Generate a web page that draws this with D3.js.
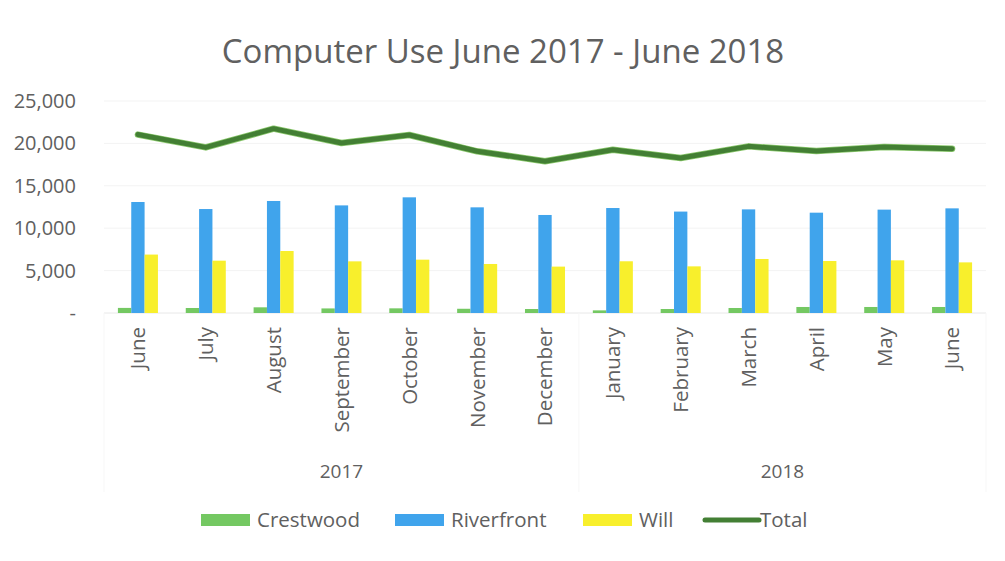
<!DOCTYPE html>
<html>
<head>
<meta charset="utf-8">
<script src="https://cdn.jsdelivr.net/npm/d3@7"></script>
<style>
  html, body { margin: 0; padding: 0; background: #ffffff; }
  svg { display: block; font-family: "Open Sans", "Noto Sans", sans-serif; }
</style>
</head>
<body>
<svg id="chart" width="1005" height="561"></svg>
<script>
// Monthly computer sessions by branch, June 2017 – June 2018
const months = ["June", "July", "August", "September", "October", "November", "December",
                "January", "February", "March", "April", "May", "June"];
const years = [
  { label: "2017", from: 0, to: 6 },
  { label: "2018", from: 7, to: 12 }
];
const crestwood  = [600, 590, 670, 540, 550, 500, 470, 310, 470, 590, 710, 710, 710];
const riverfront = [13090, 12260, 13210, 12690, 13640, 12460, 11560, 12380, 11960, 12220, 11830, 12190, 12340];
const will       = [6890, 6170, 7310, 6090, 6290, 5780, 5470, 6100, 5500, 6370, 6130, 6210, 5970];
const total      = [21040, 19530, 21740, 20050, 20990, 19070, 17890, 19260, 18280, 19650, 19100, 19570, 19380];
const yTicks = [0, 5000, 10000, 15000, 20000, 25000];

const series = [
  { name: "Crestwood",  values: crestwood,  color: "#74c862" },
  { name: "Riverfront", values: riverfront, color: "#40a4ec" },
  { name: "Will",       values: will,       color: "#f8ef2c" }
];
const lineColor = "#437f34";

const svg = d3.select("#chart");
const plotLeft = 104, plotRight = 986, plotTop = 101, plotBottom = 313;
const textColor = "#606060";

const x = d3.scaleBand().domain(d3.range(months.length)).range([plotLeft, plotRight]);
const xSub = d3.scaleBand().domain(series.map(s => s.name))
  .range([0, x.bandwidth() * 0.59]);
const subOffset = (x.bandwidth() - xSub.range()[1]) / 2;
const y = d3.scaleLinear().domain([0, 25000]).range([plotBottom, plotTop]);

// Title
svg.append("text")
  .attr("x", 503).attr("y", 63)
  .attr("text-anchor", "middle")
  .attr("font-size", 33)
  .attr("fill", textColor)
  .text("Computer Use June 2017 - June 2018");

// Horizontal gridlines
svg.append("g").selectAll("line").data(yTicks).join("line")
  .attr("x1", plotLeft).attr("x2", plotRight)
  .attr("y1", d => y(d)).attr("y2", d => y(d))
  .attr("stroke", d => d === 0 ? "#e8e8e8" : "#f3f3f3")
  .attr("stroke-width", 1);

// Y axis labels
const yAxis = d3.axisLeft(y).tickValues(yTicks).tickSize(0).tickPadding(28)
  .tickFormat(d => d === 0 ? "-" : d3.format(",")(d));
const yg = svg.append("g").attr("transform", `translate(${plotLeft},0)`).call(yAxis);
yg.select(".domain").remove();
yg.selectAll("text").attr("font-size", 20).attr("fill", textColor)
  .attr("font-family", "'Open Sans', sans-serif");

// Bars
const groups = svg.append("g").selectAll("g").data(months.map((m, i) => i)).join("g")
  .attr("transform", i => `translate(${x(i) + subOffset},0)`);
groups.selectAll("rect")
  .data(i => series.map(s => ({ name: s.name, color: s.color, value: s.values[i] })))
  .join("rect")
  .attr("x", d => xSub(d.name))
  .attr("width", xSub.bandwidth())
  .attr("y", d => y(d.value))
  .attr("height", d => y(0) - y(d.value))
  .attr("fill", d => d.color);

// Total line
const line = d3.line()
  .x((d, i) => x(i) + x.bandwidth() / 2)
  .y(d => y(d));
svg.append("path").datum(total)
  .attr("d", line)
  .attr("fill", "none")
  .attr("stroke", "#8cc96e")
  .attr("stroke-width", 6.5)
  .attr("stroke-linejoin", "round")
  .attr("stroke-linecap", "round");
svg.append("path").datum(total)
  .attr("d", line)
  .attr("fill", "none")
  .attr("stroke", lineColor)
  .attr("stroke-width", 5)
  .attr("stroke-linejoin", "round")
  .attr("stroke-linecap", "round");

// Month labels (rotated)
const xAxis = d3.axisBottom(x).tickSize(0).tickPadding(14).tickFormat(i => months[i]);
const xg = svg.append("g").attr("transform", `translate(0,${plotBottom})`).call(xAxis);
xg.select(".domain").remove();
xg.selectAll("text")
  .attr("font-size", 20.5)
  .attr("fill", textColor)
  .attr("font-family", "'Open Sans', sans-serif")
  .attr("text-anchor", "end")
  .attr("transform", "rotate(-90)")
  .attr("x", -14)
  .attr("y", 0)
  .attr("dy", "0.36em");

// Year group separators
const sepX = [plotLeft, x(7), plotRight];
svg.append("g").selectAll("line").data(sepX).join("line")
  .attr("x1", d => d).attr("x2", d => d)
  .attr("y1", plotBottom).attr("y2", 492)
  .attr("stroke", "#f7f7f7").attr("stroke-width", 1);

// Year labels
svg.append("g").selectAll("text").data(years).join("text")
  .attr("x", d => (x(d.from) + x(d.to) + x.bandwidth()) / 2)
  .attr("y", 478)
  .attr("text-anchor", "middle")
  .attr("font-size", 19)
  .attr("fill", textColor)
  .text(d => d.label);

// Legend
const legendItems = [
  { name: "Crestwood",  color: series[0].color, type: "rect", x: 201 },
  { name: "Riverfront", color: series[1].color, type: "rect", x: 395 },
  { name: "Will",       color: series[2].color, type: "rect", x: 583 },
  { name: "Total",      color: lineColor,       type: "line", x: 705 }
];
const lg = svg.append("g").selectAll("g").data(legendItems).join("g")
  .attr("transform", d => `translate(${d.x},520)`);
lg.filter(d => d.type === "rect").append("rect")
  .attr("x", 0).attr("y", -6).attr("width", 49).attr("height", 12)
  .attr("fill", d => d.color);
lg.filter(d => d.type === "line").append("line")
  .attr("x1", 0).attr("x2", 54).attr("y1", 0).attr("y2", 0)
  .attr("stroke", d => d.color).attr("stroke-width", 5)
  .attr("stroke-linecap", "round");
lg.append("text")
  .attr("x", d => d.type === "line" ? 55 : 56)
  .attr("y", 0).attr("dy", "0.36em")
  .attr("font-size", 20.5)
  .attr("fill", textColor)
  .text(d => d.name);
</script>
</body>
</html>
